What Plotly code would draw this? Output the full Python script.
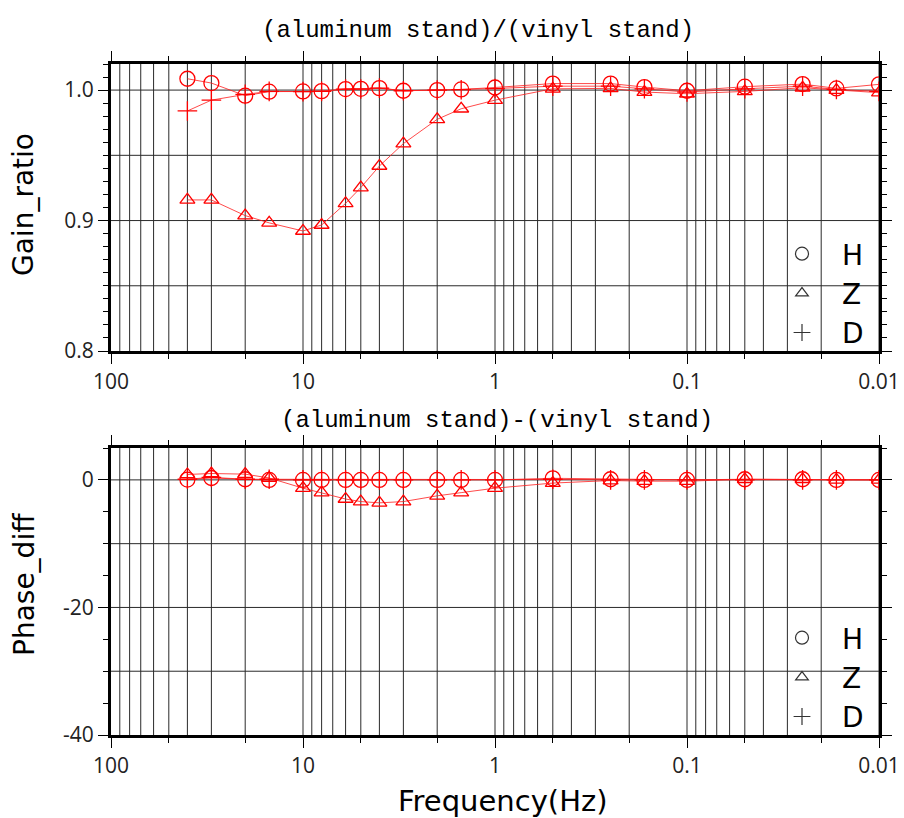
import plotly.graph_objects as go

# Frequencies (Hz) of the measured points
freq = [40, 30, 20, 15, 10, 8, 6, 5, 4, 3, 2, 1.5, 1, 0.5, 0.25, 1 / 6, 0.1, 0.05, 0.025, 1 / 60, 0.01]

# Gain ratio (aluminum stand / vinyl stand)
gain_H = [1.0087, 1.0054, 0.9957, 0.9988, 0.9990, 0.9992, 1.0008, 1.0010, 1.0015, 0.9995, 1.0000,
          1.0005, 1.0020, 1.0050, 1.0050, 1.0023, 0.9995, 1.0026, 1.0046, 1.0013, 1.0044]
gain_Z = [0.9158, 0.9158, 0.9038, 0.8982, 0.8920, 0.8966, 0.9132, 0.9253, 0.9418, 0.9590, 0.9776,
          0.9857, 0.9923, 1.0010, 1.0013, 0.9985, 0.9972, 0.9990, 1.0018, 1.0000, 0.9980]
gain_D = [0.9840, 0.9923, 0.9967, 0.9990, 0.9988, 0.9990, 1.0008, 1.0008, 1.0015, 0.9995, 1.0000,
          1.0003, 1.0012, 1.0030, 1.0030, 1.0010, 0.9985, 1.0010, 1.0030, 1.0005, 0.9990]

# Phase difference (aluminum stand - vinyl stand)
phase_H = [0.05, 0.3, 0.1, 0.0, 0.0, 0.0, 0.0, 0.0, 0.0, 0.0, 0.0,
           0.0, 0.0, 0.25, 0.1, 0.0, 0.0, 0.1, 0.1, 0.0, 0.0]
phase_Z = [0.85, 1.0, 0.9, 0.3, -1.3, -2.0, -3.0, -3.4, -3.6, -3.4, -2.5,
           -2.0, -1.3, -0.5, -0.1, -0.2, -0.2, 0.1, 0.1, 0.0, 0.0]
phase_D = [0.1, 0.4, 0.1, 0.1, 0.0, 0.0, 0.0, 0.0, 0.0, 0.0, 0.0,
           0.0, 0.0, 0.1, 0.0, 0.0, 0.0, 0.0, 0.0, 0.0, 0.0]

components = ["H", "Z", "D"]
symbols = {"H": "circle-open", "Z": "triangle-up-open", "D": "cross-thin-open"}
sizes = {"H": 15, "Z": 13, "D": 14}

# Axis ticks and grid
decades = [100, 10, 1, 0.1, 0.01]
decade_text = ["100", "10", "1", "0.1", "0.01"]
sub_ticks = [50, 20, 5, 2, 0.5, 0.2, 0.05, 0.02]
grid_freqs = [m * 10.0 ** k for k in range(-2, 2) for m in range(1, 10)]
gain_range = [0.8, 1.02]
gain_grid = [0.85, 0.9, 0.95, 1.0]
phase_range = [-40, 5]
phase_grid = [0, -10, -20, -30]

RED = "#ff0000"
GRID = "#2a2a2a"
SANS = "DejaVu Sans, sans-serif"
TICKFONT = "Open Sans, DejaVu Sans, sans-serif"
MONO = "Liberation Mono, DejaVu Sans Mono, monospace"

fig = go.Figure()


def add_grid(xa, ya, yr, hlines):
    gx, gy = [], []
    for f in grid_freqs:
        gx += [f, f, None]
        gy += [yr[0], yr[1], None]
    for v in hlines:
        gx += [decades[0], decades[-1], None]
        gy += [v, v, None]
    fig.add_trace(go.Scatter(x=gx, y=gy, mode="lines", xaxis=xa, yaxis=ya,
                             line=dict(color=GRID, width=1), hoverinfo="skip",
                             showlegend=False))


add_grid("x", "y", gain_range, gain_grid)
add_grid("x2", "y2", phase_range, phase_grid)

panels = [("x", "y", {"H": gain_H, "Z": gain_Z, "D": gain_D}, "legend"),
          ("x2", "y2", {"H": phase_H, "Z": phase_Z, "D": phase_D}, "legend2")]

for xa, ya, series, leg in panels:
    for c in components:
        fig.add_trace(go.Scatter(
            x=freq, y=series[c], mode="lines+markers", xaxis=xa, yaxis=ya,
            line=dict(color="rgba(255,30,30,0.8)", width=1),
            marker=dict(symbol=symbols[c], size=sizes[c], color=RED,
                        line=dict(color=RED, width=1.3)),
            name=c, showlegend=False))
    # legend entries drawn with neutral symbols
    for c in components:
        fig.add_trace(go.Scatter(
            x=[None], y=[None], mode="markers", xaxis=xa, yaxis=ya,
            marker=dict(symbol=symbols[c], size=sizes[c] - 2, color="#333333",
                        line=dict(color="#333333", width=1.2)),
            name=c, legend=leg, showlegend=True))

xdom = [111 / 904, 879 / 904]
top_dom = [(818 - 351) / 818, (818 - 64) / 818]
bot_dom = [(818 - 735) / 818, (818 - 448) / 818]

xaxis_common = dict(
    type="log", range=[2, -2], domain=xdom, automargin=False,
    tickvals=decades, ticktext=decade_text, ticks="outside", ticklen=10,
    tickwidth=1, tickcolor="black",
    minor=dict(tickvals=sub_ticks, ticks="outside", ticklen=5, tickwidth=1,
               tickcolor="black", showgrid=False),
    showgrid=False, zeroline=False, showline=True, linewidth=3,
    linecolor="black", mirror="ticks",
    tickfont=dict(family=TICKFONT, size=21, color="#222222"),
)

yaxis_common = dict(
    ticks="outside", ticklen=10, tickwidth=1, tickcolor="black", automargin=False,
    showgrid=False, zeroline=False, showline=True, linewidth=3,
    linecolor="black", mirror="ticks",
    tickfont=dict(family=TICKFONT, size=21, color="#222222"),
)

legend_common = dict(xanchor="left", yanchor="bottom", bgcolor="rgba(0,0,0,0)",
                     borderwidth=0, font=dict(family=SANS, size=28, color="black"),
                     tracegroupgap=0, itemwidth=70)

fig.update_layout(
    width=904, height=818,
    margin=dict(l=0, r=0, t=0, b=0),
    paper_bgcolor="white", plot_bgcolor="white",
    showlegend=True,
    xaxis=dict(xaxis_common, anchor="y"),
    xaxis2=dict(xaxis_common, anchor="y2"),
    yaxis=dict(
        yaxis_common,
        domain=top_dom, range=gain_range, anchor="x",
        tickvals=[0.8, 0.9, 1.0], ticktext=["0.8", "0.9", "1.0"],
        minor=dict(dtick=0.01, tick0=0.8, ticks="outside", ticklen=5,
                   tickwidth=1, tickcolor="black", showgrid=False),
    ),
    yaxis2=dict(
        yaxis_common,
        domain=bot_dom, range=phase_range, anchor="x2",
        tickvals=[0, -20, -40], ticktext=["0", "-20", "-40"],
        minor=dict(dtick=5, tick0=0, ticks="outside", ticklen=5,
                   tickwidth=1, tickcolor="black", showgrid=False),
    ),
    legend=dict(legend_common, x=762 / 904, y=(818 - 358) / 818),
    legend2=dict(legend_common, x=762 / 904, y=(818 - 742) / 818),
)

annotations = [
    dict(text="(aluminum stand)/(vinyl stand)", x=478 / 904, y=(818 - 30) / 818,
         font=dict(family=MONO, size=24, color="black")),
    dict(text="(aluminum stand)-(vinyl stand)", x=497 / 904, y=(818 - 420) / 818,
         font=dict(family=MONO, size=24, color="black")),
    dict(text="Gain_ratio", x=24 / 904, y=(818 - 205) / 818, textangle=-90,
         font=dict(family=SANS, size=28, color="black")),
    dict(text="Phase_diff", x=24 / 904, y=(818 - 585) / 818, textangle=-90,
         font=dict(family=SANS, size=28, color="black")),
    dict(text="Frequency(Hz)", x=503 / 904, y=(818 - 801) / 818,
         font=dict(family=SANS, size=29, color="black")),
]
for a in annotations:
    fig.add_annotation(xref="paper", yref="paper", showarrow=False,
                       xanchor="center", yanchor="middle", **a)

fig.write_html("out.html")
